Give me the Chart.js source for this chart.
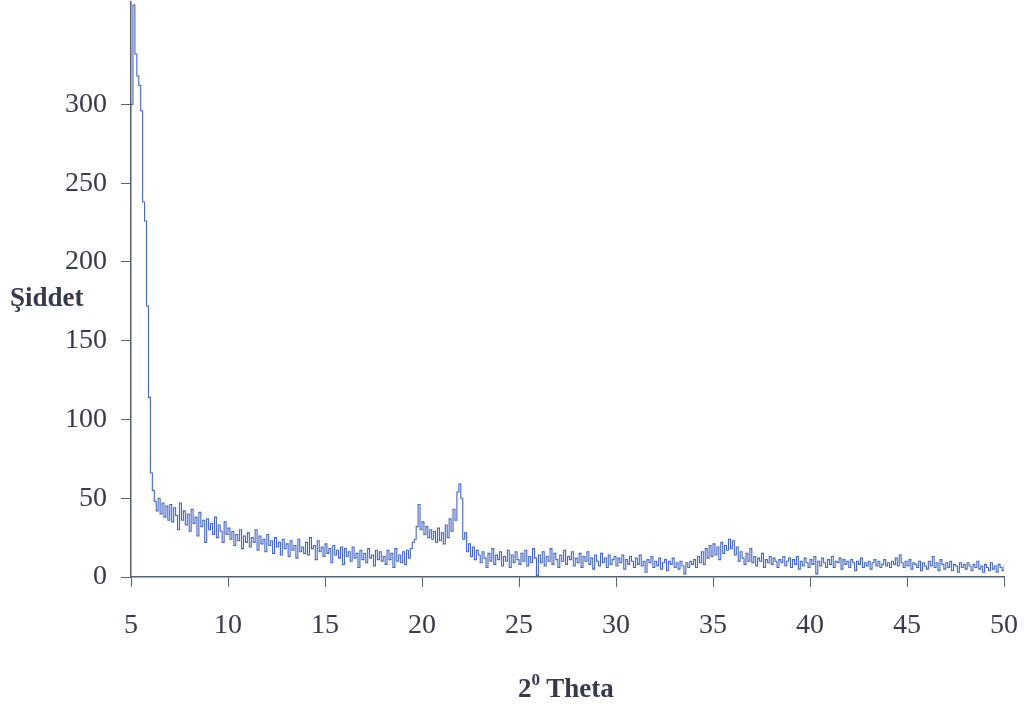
<!DOCTYPE html>
<html lang="tr">
<head>
<meta charset="UTF-8">
<title>XRD</title>
<script src="https://cdn.jsdelivr.net/npm/chart.js@4"></script>
<style>
  body { margin: 0; background: #fff; }
  #wrap { position: relative; width: 1025px; height: 708px; }
  .lbl {
    position: absolute;
    font-family: 'Liberation Serif', 'Times New Roman', serif;
    font-weight: bold;
    color: #363b4c;
    white-space: nowrap;
  }
  #ytitle { left: 10px; top: 282px; font-size: 27px; }
  #xtitle { left: 518px; top: 672px; font-size: 27px; }
  #xtitle sup { font-size: 17px; position: relative; top: -2px; }
</style>
</head>
<body>
<div id="wrap">
  <canvas id="myChart" width="1025" height="708"></canvas>
  <div id="ytitle" class="lbl">Şiddet</div>
  <div id="xtitle" class="lbl">2<sup>0</sup> Theta</div>
</div>

<script>
  // 2theta grid: 5.0 .. 50.0, step 0.1
  const thetaStart = 5;
  const thetaStep = 0.1;

  // intensity, one row per degree
  const intensity = [
    300, 363, 332, 318, 312, 296, 238, 226, 172, 114,   // 5
    66, 55, 48, 42, 50, 40, 47, 38, 45, 36,             // 6
    46, 35, 44, 39, 30, 47, 36, 42, 33, 40,             // 7
    29, 43, 34, 38, 26, 41, 32, 36, 22, 37,             // 8
    30, 34, 27, 38, 25, 33, 29, 22, 35, 27,             // 9
    31, 24, 29, 20, 27, 23, 30, 18, 26, 22,             // 10
    28, 19, 25, 22, 30, 17, 26, 21, 24, 16,             // 11
    27, 20, 23, 15, 25, 19, 22, 14, 24, 18,             // 12
    21, 13, 23, 17, 20, 12, 24, 16, 19, 15,             // 13
    22, 14, 25, 18, 20, 11, 23, 16, 19, 13,             // 14
    21, 15, 18, 9, 20, 14, 17, 12, 19, 8,               // 15
    18, 13, 16, 10, 19, 12, 15, 6, 17, 11,              // 16
    15, 9, 18, 12, 14, 7, 17, 11, 16, 10,               // 17
    13, 8, 17, 11, 15, 6, 18, 10, 14, 9,                // 18
    16, 8, 17, 12, 18, 22, 24, 32, 46, 30,              // 19
    35, 27, 32, 25, 30, 24, 29, 22, 31, 23,             // 20
    28, 21, 33, 25, 37, 29, 43, 36, 54, 59,             // 21
    50, 24, 28, 16, 21, 13, 19, 11, 17, 14,             // 22
    9, 16, 12, 6, 15, 10, 18, 8, 14, 11,                // 23
    16, 7, 13, 10, 17, 6, 14, 9, 16, 11,                // 24
    8, 15, 10, 17, 7, 13, 9, 18, 12, 1,                 // 25
    14, 9, 16, 7, 13, 10, 18, 8, 15, 11,                // 26
    6, 14, 10, 17, 8, 13, 11, 16, 7, 12,                // 27
    9, 15, 6, 13, 10, 16, 8, 12, 5, 14,                 // 28
    10, 7, 15, 9, 12, 6, 14, 8, 11, 13,                 // 29
    7, 12, 9, 14, 5, 11, 8, 13, 10, 6,                  // 30
    12, 8, 14, 7, 10, 3, 11, 9, 13, 6,                  // 31
    10, 7, 12, 5, 9, 11, 4, 10, 8, 12,                  // 32
    6, 9, 5, 10, 7, 2, 9, 6, 10, 8,                     // 33
    11, 6, 13, 9, 16, 8, 18, 12, 20, 13,                // 34
    21, 14, 19, 11, 22, 15, 20, 17, 24, 18,             // 35
    23, 14, 19, 10, 16, 12, 8, 15, 10, 18,              // 36
    9, 13, 7, 12, 10, 15, 6, 11, 9, 13,                 // 37
    8, 12, 10, 6, 11, 9, 13, 7, 10, 12,                 // 38
    6, 11, 8, 13, 5, 10, 7, 12, 9, 6,                   // 39
    11, 8, 13, 2, 10, 7, 12, 9, 6, 11,                  // 40
    8, 13, 6, 10, 9, 12, 5, 11, 8, 10,                  // 41
    6, 11, 9, 4, 10, 8, 12, 6, 9, 7,                    // 42
    10, 5, 9, 11, 7, 10, 6, 8, 11, 7,                   // 43
    9, 6, 10, 8, 12, 7, 14, 9, 6, 10,                   // 44
    7, 11, 5, 9, 8, 6, 10, 4, 9, 7,                     // 45
    5, 10, 7, 13, 6, 9, 4, 11, 8, 5,                    // 46
    9, 6, 10, 4, 8, 7, 3, 9, 6, 8,                      // 47
    5, 9, 7, 4, 8, 6, 10, 5, 7, 3,                      // 48
    8, 6, 4, 9, 5, 7, 3, 8, 6, 4,                       // 49
    7                                                   // 50
  ];

  const xTicks = [5, 10, 15, 20, 25, 30, 35, 40, 45, 50];
  const yTicks = [0, 50, 100, 150, 200, 250, 300];

  const tickFont = { family: "'Liberation Serif', 'Times New Roman', serif", size: 28 };
  const textColor = '#363b4c';
  const axisColor = '#5a5f6c';

  const points = intensity.map((v, i) => ({ x: +(thetaStart + i * thetaStep).toFixed(2), y: v }));

  new Chart(document.getElementById('myChart'), {
    type: 'line',
    data: {
      datasets: [{
        data: points,
        borderColor: '#4466bf',
        borderWidth: 1.1,
        pointRadius: 0,
        stepped: true,
        fill: false
      }]
    },
    options: {
      responsive: false,
      animation: false,
      layout: { padding: { left: 0, right: 21, top: 2, bottom: 0 } },
      plugins: { legend: { display: false }, tooltip: { enabled: false } },
      scales: {
        x: {
          type: 'linear',
          min: 5,
          max: 50,
          afterBuildTicks: s => { s.ticks = xTicks.map(v => ({ value: v })); },
          afterFit: s => { s.height = 131; s.paddingLeft = 0; s.paddingRight = 0; },
          grid: { drawOnChartArea: false, drawTicks: true, tickLength: 10, color: axisColor },
          border: { color: axisColor, width: 1.5 },
          ticks: { font: tickFont, color: textColor, padding: 22, maxRotation: 0 }
        },
        y: {
          min: 0,
          max: 365,
          afterBuildTicks: s => { s.ticks = yTicks.map(v => ({ value: v })); },
          afterFit: s => { s.width = 131; s.paddingTop = 0; s.paddingBottom = 0; },
          grid: { drawOnChartArea: false, drawTicks: true, tickLength: 10, color: axisColor },
          border: { color: axisColor, width: 1.5 },
          ticks: { font: tickFont, color: textColor, padding: 14 }
        }
      }
    }
  });
</script>
</body>
</html>
